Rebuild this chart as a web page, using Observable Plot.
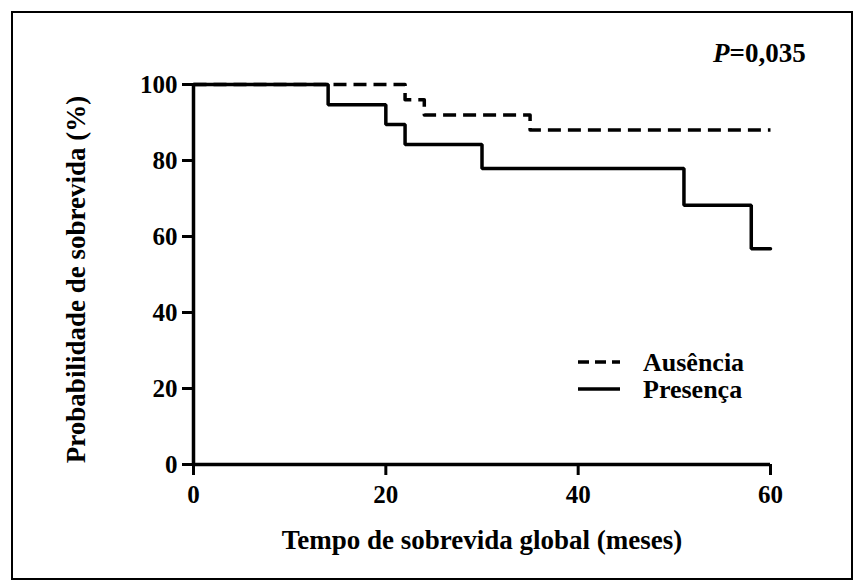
<!DOCTYPE html>
<html>
<head>
<meta charset="utf-8">
<script src="https://cdn.jsdelivr.net/npm/d3@7"></script>
<script src="https://cdn.jsdelivr.net/npm/@observablehq/plot@0.6"></script>
<style>
  html, body { margin: 0; padding: 0; background: #fff; }
  #wrap { position: relative; width: 861px; height: 588px; overflow: hidden; font-family: "Liberation Serif", "Times New Roman", serif; font-weight: bold; }
  #frame { position: absolute; left: 11px; top: 11px; width: 838px; height: 565px; border: 2px solid #000; pointer-events: none; }
  #pval { position: absolute; left: 713px; top: 40px; font-size: 27px; line-height: 1; font-family: "Liberation Serif", serif; font-weight: bold; }
  #legend { position: absolute; left: 570px; top: 345px; }
</style>
</head>
<body>
<div id="wrap">
  <div id="chart"></div>
  <div id="frame"></div>
  <div id="pval"><i>P</i>=0,035</div>
  <svg id="legend" width="220" height="62"></svg>
</div>
<script>
// Kaplan–Meier survival estimates
const seriesNames = ["Ausência", "Presença"];
const ausenciaTime = [0, 22, 24, 35, 60];
const ausenciaSurv = [100, 96, 92, 88, 88];
const presencaTime = [0, 14, 20, 22, 30, 51, 58, 60];
const presencaSurv = [100, 94.7, 89.5, 84.2, 77.9, 68.2, 56.8, 56.8];
const xTicks = [0, 20, 40, 60];
const yTicks = [0, 20, 40, 60, 80, 100];
const xTitle = "Tempo de sobrevida global (meses)";
const yTitle = "Probabilidade de sobrevida (%)";

const ausencia = ausenciaTime.map((t, i) => ({t, s: ausenciaSurv[i], g: seriesNames[0]}));
const presenca = presencaTime.map((t, i) => ({t, s: presencaSurv[i], g: seriesNames[1]}));

const font = '"Liberation Serif", "Times New Roman", serif';
const chart = Plot.plot({
  width: 861,
  height: 588,
  marginLeft: 193,
  marginRight: 91,
  marginTop: 84,
  marginBottom: 124,
  style: {fontFamily: font, fontWeight: "bold", color: "#000", background: "transparent"},
  x: {domain: [0, 60], ticks: xTicks},
  y: {domain: [0, 100], ticks: yTicks},
  marks: [
    Plot.axisX({ticks: xTicks, tickSize: 11, tickPadding: 10, strokeWidth: 3, label: null, fontSize: 25, fontFamily: font, fontWeight: "bold", fill: "#000"}),
    Plot.axisY({ticks: yTicks, tickSize: 11, tickPadding: 5, strokeWidth: 3, label: null, fontSize: 25, fontFamily: font, fontWeight: "bold", fill: "#000"}),
    Plot.ruleY([0], {stroke: "#000", strokeWidth: 3.5}),
    Plot.ruleX([0], {stroke: "#000", strokeWidth: 3.5}),
    Plot.line(ausencia, {x: "t", y: "s", curve: "step-after", stroke: "#000", strokeWidth: 3.5, strokeDasharray: "13,7", strokeLinecap: "butt"}),
    Plot.line(presenca, {x: "t", y: "s", curve: "step-after", stroke: "#000", strokeWidth: 3.5, strokeLinejoin: "miter"}),
    Plot.text([xTitle], {frameAnchor: "bottom", lineAnchor: "bottom", dy: 84, fontSize: 27, fontFamily: font, fontWeight: "bold", fill: "#000"}),
    Plot.text([yTitle], {frameAnchor: "left", textAnchor: "middle", lineAnchor: "middle", rotate: -90, dx: -117, dy: 5, fontSize: 27, fontFamily: font, fontWeight: "bold", fill: "#000"})
  ]
});
document.getElementById("chart").appendChild(chart);

// legend
const lg = d3.select("#legend");
const items = [{name: seriesNames[0], dash: "11,6"}, {name: seriesNames[1], dash: null}];
items.forEach((it, i) => {
  const y = 17 + i * 27;
  lg.append("line").attr("x1", 8).attr("x2", 50).attr("y1", y).attr("y2", y)
    .attr("stroke", "#000").attr("stroke-width", 3.5).attr("stroke-dasharray", it.dash);
  lg.append("text").attr("x", 73).attr("y", y).attr("dy", "0.33em")
    .attr("font-family", font).attr("font-weight", "bold").attr("font-size", 26).text(it.name);
});
</script>
</body>
</html>
